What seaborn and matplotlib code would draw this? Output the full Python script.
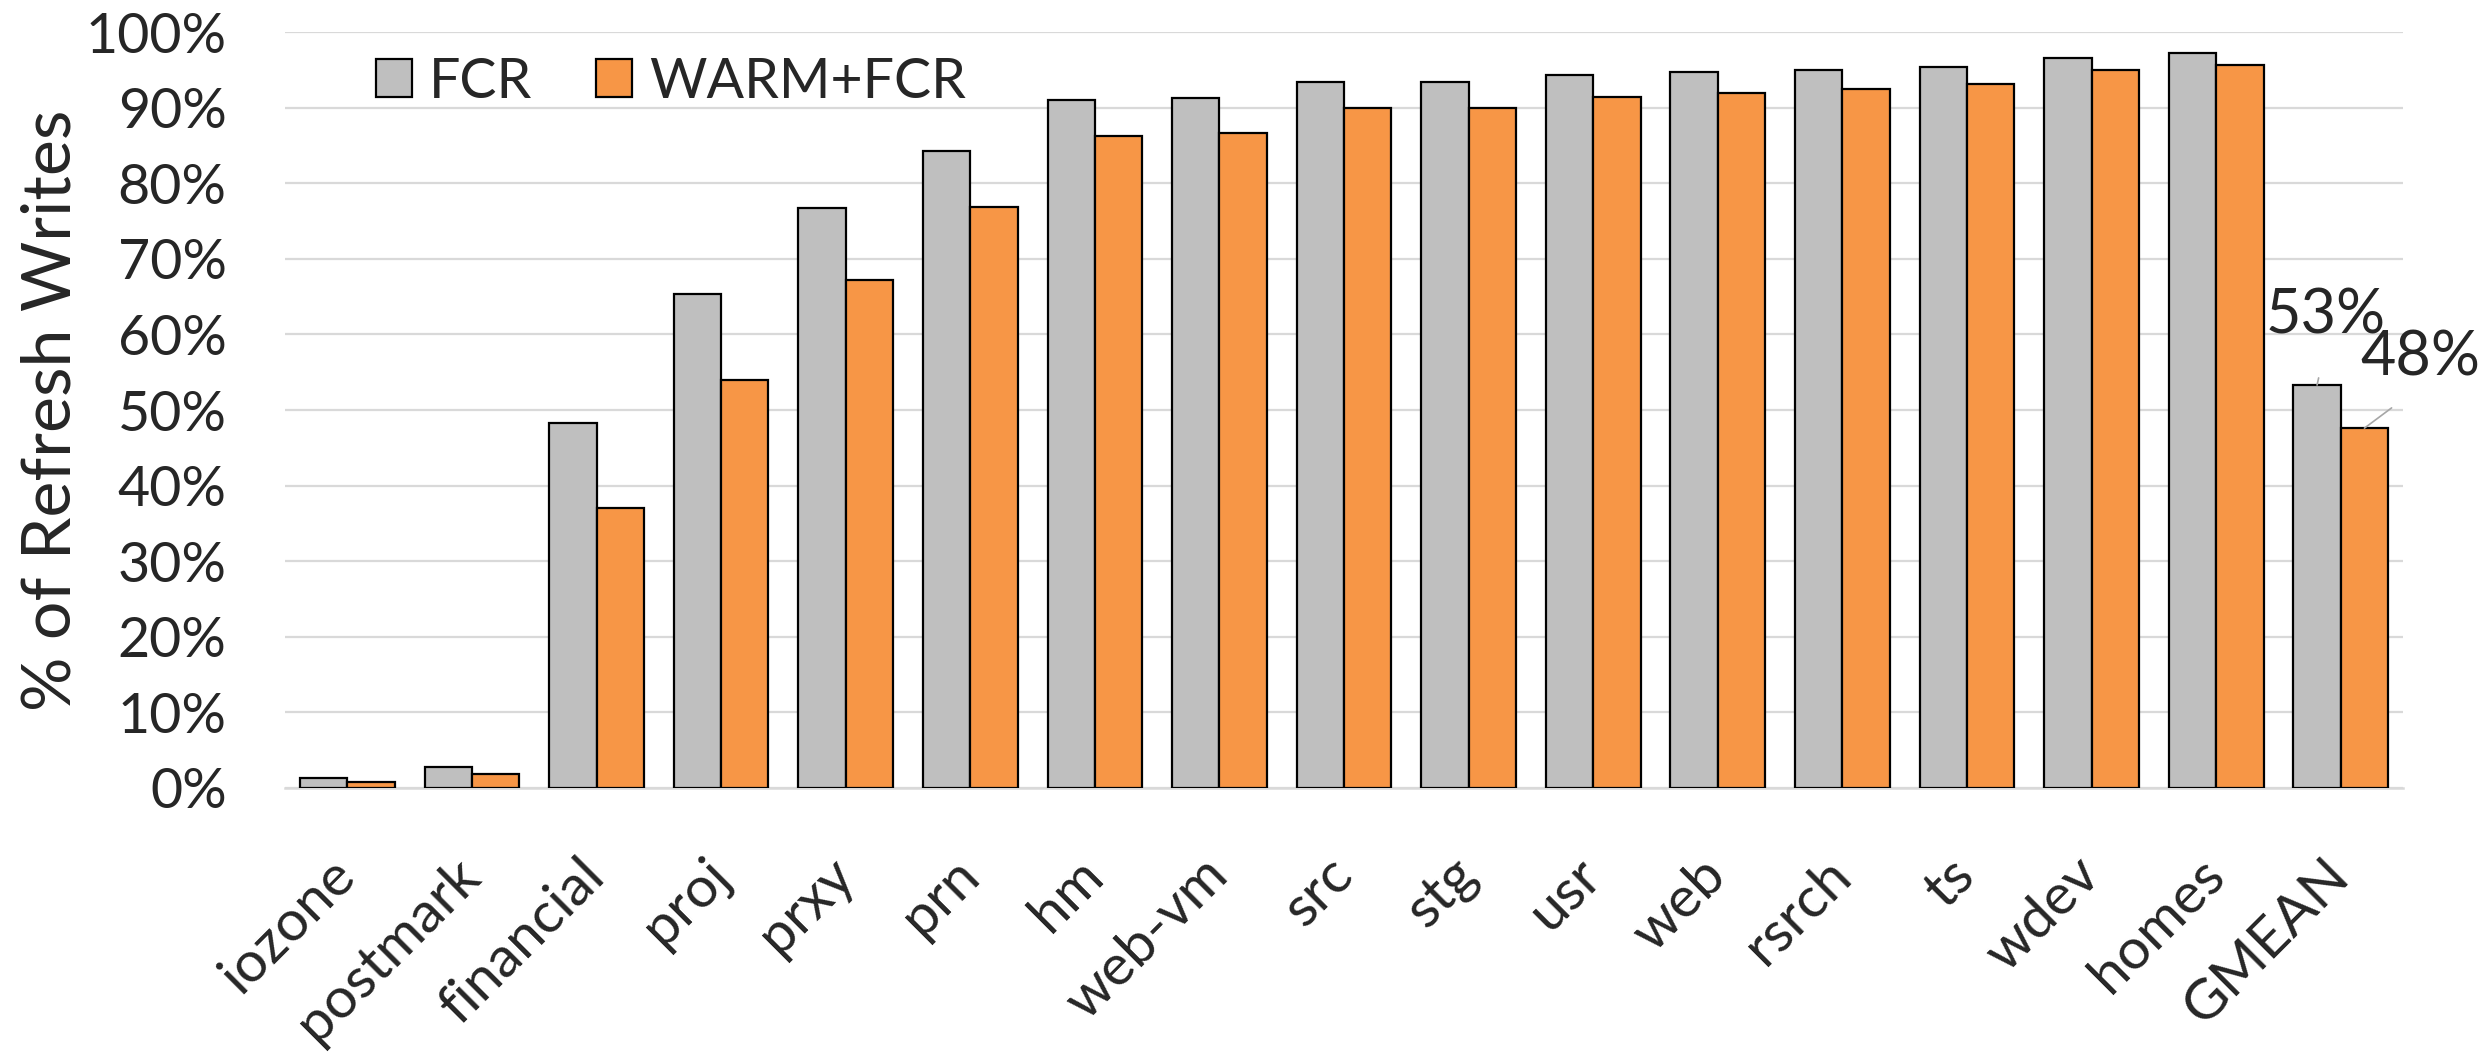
import numpy as np
import pandas as pd
import matplotlib
matplotlib.use("Agg")
import matplotlib.pyplot as plt
import seaborn as sns
from matplotlib.patches import Patch
from matplotlib.ticker import PercentFormatter

# Workloads and the share of refresh writes under each mechanism (%)
workloads = ["iozone", "postmark", "financial", "proj", "prxy", "prn", "hm",
             "web-vm", "src", "stg", "usr", "web", "rsrch", "ts", "wdev",
             "homes", "GMEAN"]
fcr = [1.3, 2.8, 48.3, 65.4, 76.7, 84.3, 91.0, 91.3, 93.4, 93.4, 94.3, 94.7,
       95.0, 95.4, 96.6, 97.2, 53.3]
warm_fcr = [0.8, 1.9, 37.0, 54.0, 67.2, 76.8, 86.3, 86.6, 90.0, 90.0, 91.4,
            92.0, 92.5, 93.1, 95.0, 95.6, 47.6]
series = ["FCR", "WARM+FCR"]
colors = ["#BFBFBF", "#F79646"]
yticks = list(range(0, 101, 10))

df = pd.DataFrame({
    "workload": workloads * 2,
    "value": fcr + warm_fcr,
    "series": [series[0]] * len(workloads) + [series[1]] * len(workloads),
})

sns.set_theme(style="white")
plt.rcParams["font.family"] = ["Lato", "DejaVu Sans"]
FS = 40

fig = plt.figure(figsize=(24.83, 10.54), dpi=100)
ax = fig.add_axes([0.1148, 0.2524, 0.9678 - 0.1148, 0.9696 - 0.2524])

sns.barplot(data=df, x="workload", y="value", hue="series",
            palette=colors, width=0.76, edgecolor="black", linewidth=1.6,
            saturation=1, legend=False, ax=ax, zorder=3)

ax.set_xlim(-0.5, len(workloads) - 0.5)
ax.set_ylim(0, 100)
ax.set_yticks(yticks)
ax.yaxis.set_major_formatter(PercentFormatter(xmax=100, decimals=0))
ax.grid(axis="y", color="#D9D9D9", linewidth=1.6, zorder=0)
ax.set_axisbelow(True)
for side in ["top", "right", "left"]:
    ax.spines[side].set_visible(False)
ax.spines["bottom"].set_color("#D9D9D9")
ax.spines["bottom"].set_linewidth(1.8)

ax.tick_params(axis="y", length=0, pad=42, labelsize=FS)
ax.tick_params(axis="x", length=0, pad=57, labelsize=41)
for lab in ax.get_xticklabels():
    lab.set_rotation(45)
    lab.set_ha("right")
    lab.set_va("center")
    lab.set_rotation_mode("anchor")

ax.set_xlabel("")
ax.set_ylabel("% of Refresh Writes", fontsize=49, labelpad=2)

# Value callouts for the geometric mean bars
g = len(workloads) - 1
bar_off = 0.76 / 4
ax.annotate(f"{fcr[g]:.0f}%", xy=(g - bar_off, fcr[g]), xytext=(g - 0.12, 62.4),
            ha="center", va="center", fontsize=44, annotation_clip=False,
            arrowprops=dict(arrowstyle="-", color="#A6A6A6", lw=1.2,
                            shrinkA=22, shrinkB=0, relpos=(0.5, 0.0)))
ax.annotate(f"{warm_fcr[g]:.0f}%", xy=(g + bar_off, warm_fcr[g]), xytext=(g + 0.64, 56.9),
            ha="center", va="center", fontsize=44, annotation_clip=False,
            arrowprops=dict(arrowstyle="-", color="#A6A6A6", lw=1.2,
                            shrinkA=22, shrinkB=0, relpos=(0.5, 0.0)))

handles = [Patch(facecolor=c, edgecolor="black", linewidth=1.6) for c in colors]
fig.legend(handles, series, loc="center left",
           bbox_to_anchor=(376 / 2483, 1 - 82 / 1054), ncol=2, frameon=False,
           fontsize=FS, handlelength=0.65, handleheight=0.65,
           handletextpad=0.3, columnspacing=1.15, borderpad=0, borderaxespad=0)

fig.savefig("out.png", dpi=100)
